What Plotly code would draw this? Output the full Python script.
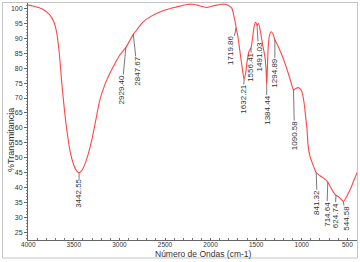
import plotly.graph_objects as go

# Spectrum (wavenumber cm-1, %T)
wavenumber = [4000, 3950, 3880, 3820, 3764, 3720, 3687, 3660, 3632, 3605, 3577, 3540, 3500, 3470,
              3442.55, 3415, 3380, 3340, 3303, 3260, 3215, 3160, 3105, 3050, 2996, 2929.40, 2880,
              2847.67, 2800, 2743, 2650, 2557, 2460, 2370, 2260, 2200, 2150, 2090, 2041, 1990, 1931,
              1880, 1843, 1800, 1766, 1745, 1730, 1719.86, 1700, 1680, 1655, 1632.21, 1615, 1600,
              1580, 1556.41, 1540, 1525, 1510, 1500, 1491.03, 1475, 1455, 1430, 1405, 1392, 1384.44,
              1377, 1368, 1355, 1335, 1315, 1294.89, 1270, 1240, 1200, 1161, 1120, 1090.58, 1065,
              1040, 1015, 996, 975, 960, 943, 930, 910, 885, 860, 841.32, 800, 760, 714.64, 685,
              655, 624.74, 600, 570, 544.58, 520, 495, 471, 430, 390]
transmittance = [101.1, 100.8, 100.2, 99.3, 97.8, 95.5, 91.7, 85.0, 75.0, 66.5, 59.3, 52.0, 47.5, 45.6,
                 45.0, 45.6, 47.8, 51.5, 56.0, 62.5, 69.3, 74.5, 78.3, 81.5, 84.4, 86.9, 89.6,
                 91.3, 93.2, 95.4, 97.4, 98.8, 99.8, 100.5, 101.3, 101.4, 101.1, 100.6, 100.3, 100.7, 101.1,
                 101.4, 101.4, 100.9, 100.0, 97.5, 95.3, 93.5, 90.5, 86.0, 80.5, 76.2, 78.5, 82.0,
                 85.5, 86.8, 90.0, 93.5, 95.3, 95.1, 94.3, 95.0, 92.5, 88.0, 84.0, 80.0, 74.0,
                 80.0, 87.0, 90.8, 92.2, 91.4, 89.5, 88.0, 86.0, 83.0, 79.5, 75.5, 72.8, 73.2,
                 73.5, 73.0, 71.8, 68.5, 64.5, 59.7, 54.0, 50.5, 48.3, 46.3, 45.0, 44.0, 43.2, 41.9, 40.2,
                 38.6, 37.5, 37.0, 36.2, 35.4, 36.3, 37.8, 39.2, 42.3, 45.3]

peak_labels = ["3442.55", "2929.40", "2847.67", "1719.86", "1632.21", "1556.41", "1491.03",
               "1384.44", "1294.89", "1090.58", "841.32", "714.64", "624.74", "544.58"]

x_ticks = [4000, 3500, 3000, 2500, 2000, 1500, 1000, 500]
y_ticks = [25, 30, 35, 40, 45, 50, 55, 60, 65, 70, 75, 80, 85, 90, 95, 100]

# label placement (pixel offsets of the rotated text from its peak)
label_offsets = [(0, 21), (-4, 42), (4, 37), (-5, 23), (-1, 20), (0, 20), (2, 31),
                 (0, 24), (0, 33), (1, 46), (1, 30), (-1, 32), (-1, 20), (3, 17)]

RED = "#ff4646"
FONT = "Liberation Sans, Arial, sans-serif"

fig = go.Figure()
fig.add_trace(go.Scatter(x=wavenumber, y=transmittance, mode="lines",
                         line=dict(color=RED, width=1.1, shape="spline", smoothing=0.7),
                         hoverinfo="skip", showlegend=False))

for lab, (ax, ay) in zip(peak_labels, label_offsets):
    wn = float(lab)
    t = transmittance[wavenumber.index(wn)]
    fig.add_annotation(x=wn, y=t, xref="x", yref="y", text=lab, textangle=-90,
                       showarrow=True, arrowhead=0, arrowwidth=0.8, arrowcolor="#555555",
                       ax=ax, ay=ay, standoff=0, borderpad=0,
                       font=dict(family=FONT, size=8, color="#333333"))

fig.add_annotation(text="%Transmitancia", textangle=-90, xref="paper", yref="paper",
                   x=(11 - 28) / 329, y=(240 - 140) / 237, xanchor="center", yanchor="middle",
                   showarrow=False, font=dict(family=FONT, size=9, color="#333333"))
fig.add_annotation(text="Número de Ondas (cm-1)", xref="paper", yref="paper",
                   x=(203 - 28) / 329, y=(240 - 254) / 237, xanchor="center", yanchor="middle",
                   showarrow=False, font=dict(family=FONT, size=8.5, color="#333333"))

fig.add_shape(type="rect", xref="paper", yref="paper",
              x0=(2.5 - 28) / 329, x1=(357.5 - 28) / 329,
              y0=(240 - 258) / 237, y1=(240 - 2.5) / 237,
              line=dict(color="#c4c4c4", width=1), fillcolor="rgba(0,0,0,0)", layer="below")

fig.update_layout(
    width=360, height=262,
    margin=dict(l=28, r=3, t=3, b=22, autoexpand=False),
    paper_bgcolor="white", plot_bgcolor="white",
    xaxis=dict(range=[4003, 394], tickvals=x_ticks, ticktext=[str(v) for v in x_ticks],
               showgrid=False, zeroline=False, showline=True, linecolor="#666666", linewidth=1,
               ticks="inside", ticklen=2, tickcolor="#666666", automargin=False,
               ticklabelstandoff=-2,
               minor=dict(dtick=100, ticks="inside", ticklen=2, tickcolor="#777777"),
               tickfont=dict(family=FONT, size=6.5, color="#333333")),
    yaxis=dict(range=[22.5, 101.8], tickvals=y_ticks, ticktext=[str(v) for v in y_ticks],
               showgrid=False, zeroline=False, showline=True, linecolor="#666666", linewidth=1,
               ticks="outside", ticklen=3, tickcolor="#666666", automargin=False,
               minor=dict(dtick=1, ticks="outside", ticklen=1, tickcolor="#888888"),
               tickfont=dict(family=FONT, size=7, color="#333333")),
)

fig.write_html("out.html", config={"displayModeBar": False},
               post_script="document.body.style.margin='0';")
